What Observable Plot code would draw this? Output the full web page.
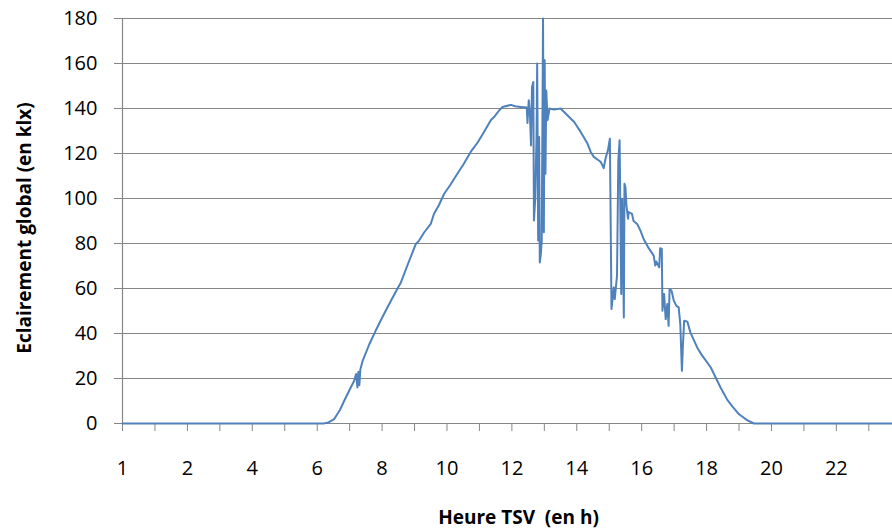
<!DOCTYPE html>
<html>
<head>
<meta charset="utf-8">
<script src="https://cdn.jsdelivr.net/npm/d3@7"></script>
<script src="https://cdn.jsdelivr.net/npm/@observablehq/plot@0.6"></script>
<style>
  html, body { margin: 0; padding: 0; background: #fff; }
  #chart { width: 892px; height: 531px; }
</style>
</head>
<body>
<div id="chart"></div>
<script>
// Time of day (true solar time, hours)
const hours = [
  0, 6.2, 6.35, 6.52, 6.7, 6.83, 7.0, 7.14, 7.2, 7.24, 7.27, 7.3, 7.33, 7.4, 7.6, 7.8,
  8.0, 8.22, 8.4, 8.58, 8.8, 9.04, 9.14, 9.3, 9.5, 9.6, 9.75, 9.91, 10.1, 10.32, 10.5,
  10.73, 10.95, 11.14, 11.35, 11.45, 11.6, 11.71, 11.97, 12.1, 12.27, 12.46, 12.48,
  12.52, 12.555, 12.59, 12.62, 12.66, 12.68, 12.72, 12.76, 12.78, 12.81, 12.84, 12.86,
  12.89, 12.92, 12.96, 12.985, 13.01, 13.035, 13.06, 13.1, 13.16, 13.3, 13.5, 13.71,
  13.92, 14.12, 14.33, 14.43, 14.53, 14.67, 14.74, 14.83, 14.89, 14.96, 15.02, 15.07,
  15.1, 15.14, 15.17, 15.24, 15.28, 15.32, 15.37, 15.4, 15.45, 15.47, 15.5, 15.53,
  15.58, 15.6, 15.7, 15.75, 15.86, 15.96, 16.06, 16.2, 16.37, 16.42, 16.45, 16.54,
  16.57, 16.62, 16.64, 16.69, 16.74, 16.79, 16.83, 16.86, 16.92, 16.99, 17.07, 17.14,
  17.19, 17.24, 17.27, 17.31, 17.41, 17.5, 17.71, 17.85, 18.13, 18.43, 18.64, 18.8,
  19.0, 19.26, 19.46, 23.73
];
// Global illuminance (klx)
const illuminance = [
  0, 0, 0.5, 1.9, 6, 10, 15, 19, 22, 16, 23, 17, 24, 27.8, 35, 41.2,
  47, 53.1, 58, 62.7, 71, 79.8, 81.3, 85, 88.7, 93.2, 97, 102, 106, 111, 115,
  120.7, 125, 129.6, 134.8, 136.2, 139, 140.7, 141.6, 141, 140.7, 140.4, 133.6,
  143.7, 138, 123.6, 149.6, 151.8, 90.2, 99.8, 128, 160, 81.3, 127.3, 71.6,
  75, 81, 180, 85, 161.5, 111, 148, 134.8, 140, 139.5, 140, 137,
  134, 129.6, 124.4, 120.7, 118.4, 117, 116.2, 113.5, 118, 121.4, 126.6, 50.9,
  55, 60.5, 55.3, 65.7, 117, 125.9, 57.6, 99.9, 47.1, 106.6, 105, 96.9,
  91, 94, 93.2, 90, 88.7, 85.8, 82, 78.3, 74.6, 70.2, 72, 69.4,
  77.9, 77.6, 50.1, 57.6, 46.4, 53.1, 43.4, 59.8, 59, 54.6, 52.3, 51.6,
  44.2, 23.4, 34.5, 45.7, 45.2, 40.5, 33.8, 30.5, 24.9, 16, 10.5, 7.5,
  4.1, 1.4, 0, 0
];

const yTicks = [0, 20, 40, 60, 80, 100, 120, 140, 160, 180];
const xTickMarks = [0, 1, 2, 3, 4, 5, 6, 7, 8, 9, 10, 11, 12, 13, 14, 15, 16, 17, 18, 19, 20, 21, 22, 23];
const xLabelPositions = [0, 2, 4, 6, 8, 10, 12, 14, 16, 18, 20, 22];
const xLabelTexts = ["1", "2", "4", "6", "8", "10", "12", "14", "16", "18", "20", "22"];
const xTitle = "Heure TSV\u00a0 (en h)";
const yTitle = "Eclairement global (en klx)";

const data = hours.map((h, i) => ({h, v: illuminance[i]}));
const gray = "#868686";

const chart = Plot.plot({
  width: 892,
  height: 531,
  marginLeft: 122,
  marginRight: 0,
  marginTop: 18,
  marginBottom: 108,
  x: {domain: [0, 23.73]},
  y: {domain: [0, 180]},
  style: {fontFamily: "'Open Sans', sans-serif", fontSize: "20px", color: "#000", background: "#fff"},
  marks: [
    Plot.ruleY(yTicks.filter(d => d > 0), {stroke: gray, strokeWidth: 1.2}),
    Plot.ruleX([0], {stroke: gray, strokeWidth: 1.2}),
    Plot.ruleY([0], {stroke: gray, strokeWidth: 1.2}),
    Plot.axisY({ticks: yTicks, tickSize: 8, tickPadding: 17, stroke: gray, fill: "#000", label: null}),
    Plot.axisX({ticks: xTickMarks, tickSize: 8, tickPadding: 0, stroke: gray, tickFormat: () => "", label: null}),
    Plot.axisX({ticks: xLabelPositions, tickSize: 0, tickPadding: 37, fill: "#000", label: null,
      tickFormat: d => xLabelTexts[xLabelPositions.indexOf(d)]}),
    Plot.line(data, {x: "h", y: "v", stroke: "#4f81bd", strokeWidth: 2, curve: "linear"}),
    Plot.text([xTitle], {frameAnchor: "bottom", dx: 11, dy: 94, textAnchor: "middle", fontWeight: "bold", fontSize: 19, lineAnchor: "middle", fill: "#000"}),
    Plot.text([yTitle], {frameAnchor: "left", dx: -98, dy: 7, rotate: -90, textAnchor: "middle", fontWeight: "bold", fontSize: 19, lineAnchor: "middle", fill: "#000"})
  ]
});

document.getElementById("chart").appendChild(chart);
</script>
</body>
</html>
